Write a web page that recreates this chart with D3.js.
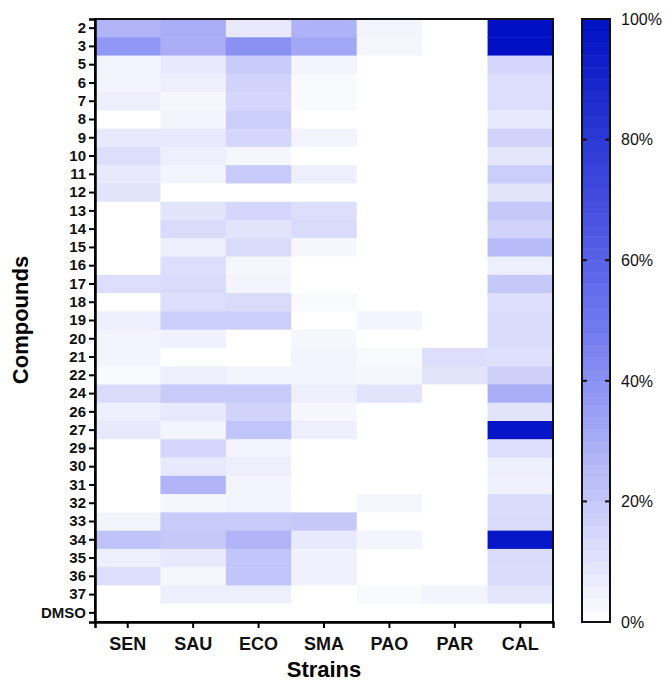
<!DOCTYPE html>
<html>
<head>
<meta charset="utf-8">
<script src="https://cdn.jsdelivr.net/npm/d3@7"></script>
<style>
  body { margin: 0; background: #fff; }
  text { font-family: "Liberation Sans", Arial, sans-serif; }
</style>
</head>
<body>
<script>
var w = 671;
var h = 682;

var compounds = ["2","3","5","6","7","8","9","10","11","12","13","14","15","16","17","18","19","20",
                 "21","22","24","26","27","29","30","31","32","33","34","35","36","37","DMSO"];
var strains = ["SEN", "SAU", "ECO", "SMA", "PAO", "PAR", "CAL"];

// inhibition (%) per strain, one value per compound, in the order above
var sen = [27,38,4,4,6,0,8,12,8,10,0,0,0,0,12,0,6,4,4,2,13,6,8,0,0,0,0,4,22,6,12,0,0];
var sau = [30,30,8,6,3,4,8,6,4,0,10,13,6,12,13,12,18,5,0,6,19,8,4,15,8,27,3,19,20,8,3,6,0];
var eco = [8,40,19,16,15,18,15,3,19,0,15,10,13,3,4,13,18,0,0,4,19,16,21,4,6,4,4,19,27,21,21,6,0];
var sma = [28,32,4,2,2,0,4,0,6,0,12,13,3,0,0,2,0,3,4,4,6,3,6,0,0,0,0,20,8,5,5,0,0];
var pao = [4,3,0,0,0,0,0,0,0,0,0,0,0,0,0,0,4,0,2,3,10,0,0,0,0,0,3,0,4,0,0,2,0];
var par = [0,0,0,0,0,0,0,0,0,0,0,0,0,0,0,0,0,0,12,10,0,0,0,0,0,0,0,0,0,0,0,4,0];
var cal = [100,100,15,12,12,8,16,9,18,10,20,16,25,6,20,12,13,13,11,17,30,10,98,12,6,5,13,13,97,13,13,9,0];

var legendTicks = [0, 20, 40, 60, 80, 100];

var series = [sen, sau, eco, sma, pao, par, cal];

var cells = [];
strains.forEach(function(s, i) {
    compounds.forEach(function(c, j) {
        cells.push({strain: s, compound: c, value: series[i][j]});
    });
});

var svg = d3.select("body")
    .append("svg")
    .attr("width", w)
    .attr("height", h);

var xScale = d3.scaleBand()
    .domain(strains)
    .range([95, 553]);

var yScale = d3.scaleBand()
    .domain(compounds)
    .range([19, 622]);

var color = d3.scaleLinear()
    .domain([0, 50, 100])
    .range(["#ffffff", "#6e76f0", "#0010c4"]);

// cells
svg.append("g")
    .selectAll("rect")
    .data(cells)
    .enter()
    .append("rect")
    .attr("x", function(d) { return xScale(d.strain); })
    .attr("y", function(d) { return yScale(d.compound); })
    .attr("width", xScale.bandwidth() + 0.5)
    .attr("height", yScale.bandwidth() + 0.5)
    .attr("fill", function(d) { return color(d.value); });

// frame
svg.append("rect")
    .attr("x", 95)
    .attr("y", 19)
    .attr("width", 458)
    .attr("height", 603)
    .attr("fill", "none")
    .attr("stroke", "#111")
    .attr("stroke-width", 2);

var yAxis = svg.append("g")
    .attr("transform", "translate(95,0)")
    .call(d3.axisLeft(yScale).tickSize(6).tickPadding(3));
yAxis.select(".domain").attr("stroke-width", 2.5);
yAxis.selectAll(".tick line").attr("stroke-width", 2);
yAxis.selectAll("text")
    .attr("font-size", 15)
    .attr("font-weight", "bold")
    .attr("fill", "#111");

var xAxis = svg.append("g")
    .attr("transform", "translate(0,622)")
    .call(d3.axisBottom(xScale).tickSize(6).tickPadding(9));
xAxis.select(".domain").attr("stroke-width", 2.5);
xAxis.selectAll(".tick line").attr("stroke-width", 2);
xAxis.selectAll("text")
    .attr("font-size", 18)
    .attr("font-weight", "bold")
    .attr("fill", "#111");

svg.append("text")
    .attr("transform", "translate(28,320) rotate(-90)")
    .attr("text-anchor", "middle")
    .attr("font-size", 22)
    .attr("font-weight", "bold")
    .text("Compounds");

svg.append("text")
    .attr("x", 324)
    .attr("y", 677)
    .attr("text-anchor", "middle")
    .attr("font-size", 22)
    .attr("font-weight", "bold")
    .text("Strains");

// colour bar, drawn in 2% steps like the original
var barX = 582, barW = 28;
var barScale = d3.scaleLinear().domain([0, 100]).range([622, 19]);
var steps = d3.range(0, 100, 2);

var bar = svg.append("g");
bar.selectAll("rect")
    .data(steps)
    .enter()
    .append("rect")
    .attr("x", barX)
    .attr("y", function(d) { return barScale(d + 2); })
    .attr("width", barW)
    .attr("height", function(d) { return barScale(d) - barScale(d + 2) + 0.5; })
    .attr("fill", function(d) { return color(d + 1); });

bar.append("rect")
    .attr("x", barX)
    .attr("y", 19)
    .attr("width", barW)
    .attr("height", 603)
    .attr("fill", "none")
    .attr("stroke", "#111")
    .attr("stroke-width", 2);

legendTicks.forEach(function(t) {
    if (t > 0 && t < 100) {
        bar.append("line")
            .attr("x1", barX).attr("x2", barX + 5)
            .attr("y1", barScale(t)).attr("y2", barScale(t))
            .attr("stroke", "#111").attr("stroke-width", 2);
        bar.append("line")
            .attr("x1", barX + barW - 5).attr("x2", barX + barW)
            .attr("y1", barScale(t)).attr("y2", barScale(t))
            .attr("stroke", "#111").attr("stroke-width", 2);
    }
    bar.append("text")
        .attr("x", 621)
        .attr("y", barScale(t))
        .attr("dy", "0.36em")
        .attr("font-size", 16)
        .attr("fill", "#111")
        .text(t + "%");
});
</script>
</body>
</html>
